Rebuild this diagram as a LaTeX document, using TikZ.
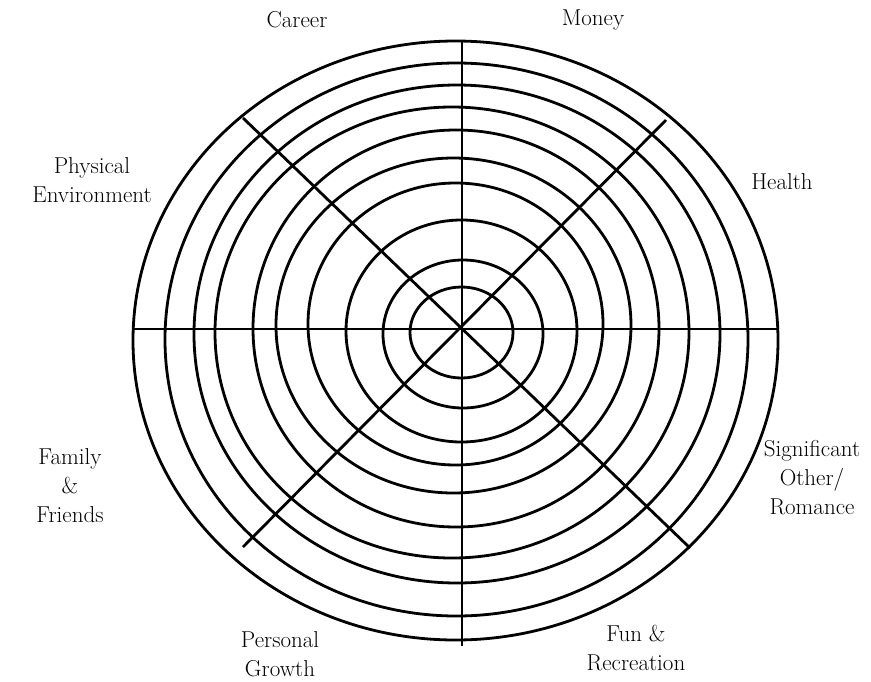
\documentclass[tikz,border=0pt]{standalone}
\usepackage{tikz}

\begin{document}
\begin{tikzpicture}[x=1pt,y=-1pt,ring/.style={line width=2.8pt},area/.style={align=center,font=\fontsize{23}{29}\selectfont}]
  \useasboundingbox (0,0) rectangle (871,681);
  % rings, innermost first: centre x/y, radius x/y
  \foreach \cx/\cy/\rx/\ry in {461.5/332.5/51.5/45.5, 463/334/80/74, 461.5/331/115.5/111,
      455.5/324/147.5/141, 453.5/325.5/177.5/167.5, 456/328.5/203/198.5, 452/332.5/237/225.5,
      457/334/263/249, 456.5/339.5/291.5/276.5, 455.5/340.5/322.5/299.5}
    \draw[ring] (\cx,\cy) ellipse [x radius=\rx pt,y radius=\ry pt];
  % spokes
  \coordinate (O) at (462,329);
  \coordinate (N) at (462,40);
  \coordinate (S) at (462,646);
  \coordinate (W) at (133,329);
  \coordinate (E) at (779,329);
  \coordinate (NE) at (666,120);
  \coordinate (SW) at (243,547);
  \coordinate (NW) at (243,118);
  \coordinate (SE) at (690,548);
  \draw[ring] (N) -- (S);
  \draw[ring] (W) -- (E);
  \draw[ring] (NE) -- (SW);
  \draw[ring] (NW) -- (SE);
  % areas of life
  \node[area] (career) at (297,20) {Career};
  \node[area] (money) at (593,20) {Money};
  \node[area] (health) at (782,182) {Health};
  \node[area] (env) at (92,180) {Physical\\Environment};
  \node[area] (romance) at (812,478) {Significant\\Other/\\Romance};
  \node[area] (family) at (70,486) {Family\\\&\\Friends};
  \node[area] (growth) at (280,654) {Personal\\Growth};
  \node[area] (fun) at (636,648) {Fun \&\\Recreation};
\end{tikzpicture}
\end{document}
